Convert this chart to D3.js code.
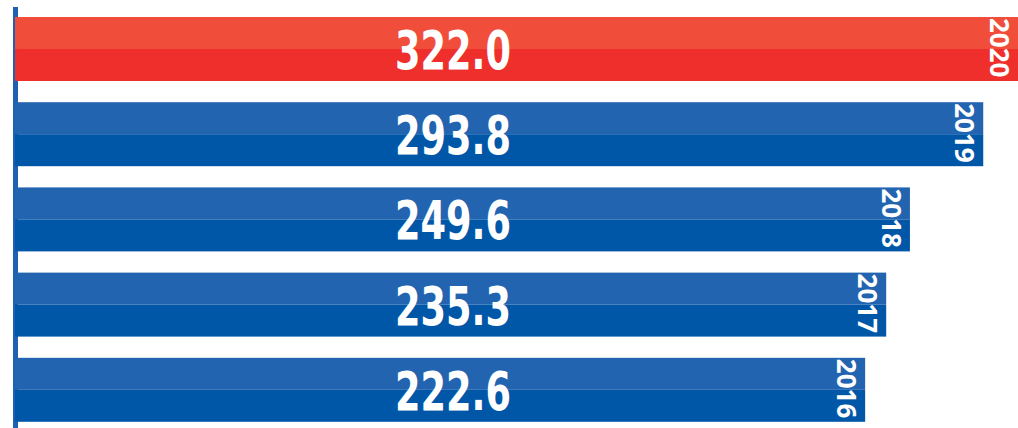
<html>
<head>
<script src="https://cdnjs.cloudflare.com/ajax/libs/d3/7.8.5/d3.min.js"></script>
<style>
body { margin: 0; background: #fff; }
svg { display: block; }
</style>
</head>
<body>
<svg id="canvas" width="1018" height="428"></svg>
<script>

var years = ['2020', '2019', '2018', '2017', '2016'];
var values = [322.0, 293.8, 249.6, 235.3, 222.6];
var valueLabels = ['322.0', '293.8', '249.6', '235.3', '222.6'];

var W = 1018, H = 428;
var svg = d3.select('#canvas');

// bars are not drawn from zero in the original, so the domain starts below it
var x = d3.scaleLinear().domain([-290, 322]).range([15, 1030]);
var y = d3.scaleBand().domain(years).range([17, 421.8]).paddingInner(0.249).paddingOuter(0);

var topColor = function(yr) { return yr === '2020' ? '#f04e3b' : '#2264b0'; };
var botColor = function(yr) { return yr === '2020' ? '#ee2f2b' : '#0157a7'; };

// axis line
svg.append('rect')
  .attr('x', 13).attr('y', 7)
  .attr('width', 5).attr('height', H - 7)
  .style('fill', '#2060b0');

var rows = years.map(function(yr, i) { return {year: yr, value: values[i], label: valueLabels[i]}; });

var g = svg.selectAll('.row').data(rows).enter().append('g').attr('class', 'row');
var bw = y.bandwidth();

g.append('rect')
  .attr('x', x(x.domain()[0]))
  .attr('y', function(d) { return y(d.year); })
  .attr('width', function(d) { return x(d.value) - x(x.domain()[0]); })
  .attr('height', bw / 2)
  .style('fill', function(d) { return topColor(d.year); });

g.append('rect')
  .attr('x', x(x.domain()[0]))
  .attr('y', function(d) { return y(d.year) + bw / 2; })
  .attr('width', function(d) { return x(d.value) - x(x.domain()[0]); })
  .attr('height', bw / 2)
  .style('fill', function(d) { return botColor(d.year); });

// value labels
g.append('text')
  .attr('x', 453)
  .attr('y', function(d) { return y(d.year) + bw / 2 + 20; })
  .attr('text-anchor', 'middle')
  .attr('textLength', 116)
  .attr('lengthAdjust', 'spacingAndGlyphs')
  .style('font-family', '"Liberation Sans Narrow", "DejaVu Sans Condensed", "Liberation Sans", sans-serif')
  .style('font-weight', 'bold')
  .style('font-size', '54px')
  .style('fill', '#fff')
  .text(function(d) { return d.label; });

// year labels, rotated at the bar end
g.append('text')
  .attr('transform', function(d) {
    var ex = Math.min(x(d.value), W) - 28;
    return 'translate(' + ex + ',' + (y(d.year) + 1) + ') rotate(90)';
  })
  .attr('text-anchor', 'start')
  .style('font-family', '"Open Sans", "DejaVu Sans", sans-serif')
  .style('font-weight', 'bold')
  .style('font-size', '26px')
  .style('fill', '#fff')
  .text(function(d) { return d.year; });

</script>
</body>
</html>
